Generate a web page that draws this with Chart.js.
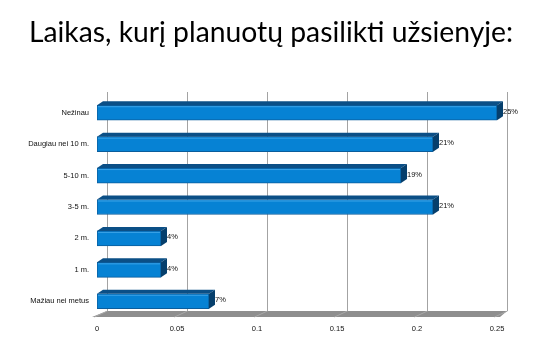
<!DOCTYPE html>
<html>
<head>
<meta charset="utf-8">
<script src="https://cdn.jsdelivr.net/npm/chart.js@4.4.1/dist/chart.umd.min.js"></script>
<style>
  html, body { margin: 0; padding: 0; background: #ffffff; }
  #wrap { width: 552px; height: 360px; position: relative; }
</style>
</head>
<body>
<div id="wrap"><canvas id="c" width="552" height="360"></canvas></div>
<script>
const titleText = "Laikas, kurį planuotų pasilikti užsienyje:";
const categories = ["Nežinau", "Daugiau nei 10 m.", "5-10 m.", "3-5 m.", "2 m.", "1 m.", "Mažiau nei metus"];
const values = [0.25, 0.21, 0.19, 0.21, 0.04, 0.04, 0.07];
const valueLabels = ["25%", "21%", "19%", "21%", "4%", "4%", "7%"];
const xTicks = [0, 0.05, 0.1, 0.15, 0.2, 0.25];

const FRONT = "#0682d4";
const TOPF = "#0b4f86";
const SIDE = "#063f6c";
const BACK_DX = 10, BACK_DY = 6;   // depth of the back wall
const BAR_DX = 6, BAR_DY = 4;      // depth of each bar

const titlePlugin = {
  id: "centeredTitle",
  afterDraw(chart) {
    const ctx = chart.ctx;
    ctx.save();
    ctx.fillStyle = "#000000";
    ctx.font = "28.3px Lato, 'Open Sans', sans-serif";
    ctx.textAlign = "center";
    ctx.textBaseline = "alphabetic";
    ctx.fillText(titleText, 271, 42);
    ctx.restore();
  }
};

const depthPlugin = {
  id: "depth",
  beforeDatasetsDraw(chart) {
    const ctx = chart.ctx, a = chart.chartArea, xs = chart.scales.x;
    ctx.save();
    // floor
    ctx.fillStyle = "#8e8e8e";
    ctx.beginPath();
    ctx.moveTo(a.left - 5, a.bottom);
    ctx.lineTo(a.right + 3, a.bottom);
    ctx.lineTo(a.right + BACK_DX, a.bottom - BACK_DY);
    ctx.lineTo(a.left + BACK_DX, a.bottom - BACK_DY);
    ctx.closePath();
    ctx.fill();
    // back grid lines
    ctx.lineWidth = 1;
    xTicks.forEach(t => {
      const px = Math.round(xs.getPixelForValue(t) + BACK_DX) + 0.5;
      ctx.strokeStyle = "#a3a3a3";
      ctx.beginPath();
      ctx.moveTo(px, a.top - 5);
      ctx.lineTo(px, a.bottom - BACK_DY);
      ctx.stroke();
      // faint line across floor
      ctx.strokeStyle = "#a8a8a8";
      ctx.beginPath();
      ctx.moveTo(px, a.bottom - BACK_DY);
      ctx.lineTo(px - BACK_DX - 3, a.bottom);
      ctx.stroke();
    });
    ctx.restore();
  },
  afterDatasetsDraw(chart) {
    const ctx = chart.ctx;
    const meta = chart.getDatasetMeta(0);
    ctx.save();
    meta.data.forEach((bar, i) => {
      const p = bar.getProps(["x", "y", "base", "height"], true);
      const top = p.y - p.height / 2, bottom = p.y + p.height / 2;
      const left = p.base, right = p.x;
      // top face
      ctx.fillStyle = TOPF;
      ctx.beginPath();
      ctx.moveTo(left, top);
      ctx.lineTo(left + BAR_DX, top - BAR_DY);
      ctx.lineTo(right + BAR_DX, top - BAR_DY);
      ctx.lineTo(right, top);
      ctx.closePath();
      ctx.fill();
      // side face
      ctx.fillStyle = SIDE;
      ctx.beginPath();
      ctx.moveTo(right, top);
      ctx.lineTo(right + BAR_DX, top - BAR_DY);
      ctx.lineTo(right + BAR_DX, bottom - BAR_DY);
      ctx.lineTo(right, bottom);
      ctx.closePath();
      ctx.fill();
      // highlight on the front top edge
      ctx.strokeStyle = "#3aa3e8";
      ctx.lineWidth = 1;
      ctx.beginPath();
      ctx.moveTo(left + 1, top + 1.5);
      ctx.lineTo(right - 1, top + 1.5);
      ctx.stroke();
      // value label
      ctx.fillStyle = "#111111";
      ctx.font = "7.5px 'Liberation Sans', sans-serif";
      ctx.textAlign = "left";
      ctx.textBaseline = "middle";
      ctx.fillText(valueLabels[i], right + BAR_DX, p.y - 1);
    });
    ctx.restore();
  }
};

new Chart(document.getElementById("c"), {
  type: "bar",
  data: {
    labels: categories,
    datasets: [{
      data: values,
      backgroundColor: FRONT,
      borderColor: "#0a5d9c",
      borderWidth: 1,
      borderSkipped: false,
      barThickness: 15
    }]
  },
  options: {
    indexAxis: "y",
    responsive: false,
    animation: false,
    devicePixelRatio: 1,
    layout: { padding: { left: 0, right: 55, top: 97, bottom: 20 } },
    plugins: {
      legend: { display: false },
      tooltip: { enabled: false },
      title: { display: false }
    },
    scales: {
      x: {
        min: 0, max: 0.25,
        afterBuildTicks(scale) { scale.ticks = xTicks.map(v => ({ value: v })); },
        grid: { display: false, drawTicks: false },
        border: { display: false },
        ticks: {
          padding: 7,
          color: "#111111",
          font: { family: "'Liberation Sans', sans-serif", size: 7.5 },
          callback: v => String(v)
        }
      },
      y: {
        afterFit(scale) { scale.width = 97; },
        grid: { display: false, drawTicks: false },
        border: { display: false },
        ticks: {
          padding: 8,
          color: "#111111",
          font: { family: "'Liberation Sans', sans-serif", size: 7.5 }
        }
      }
    }
  },
  plugins: [depthPlugin, titlePlugin]
});
</script>
</body>
</html>
